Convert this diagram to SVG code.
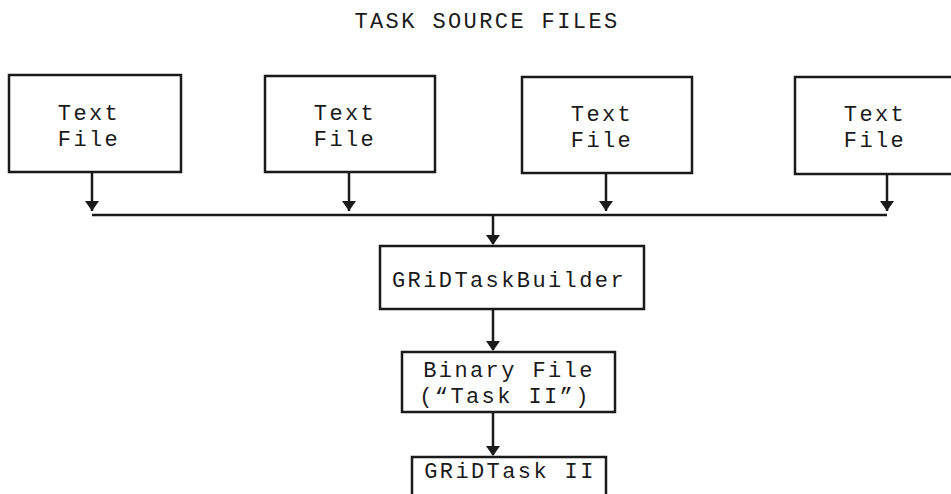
<svg xmlns="http://www.w3.org/2000/svg" width="951" height="494" viewBox="0 0 951 494">
<defs>
<style>
.box{fill:#ffffff;stroke:#1a1a1a;stroke-width:2.5}
.t{font-family:"Liberation Mono","DejaVu Sans Mono",monospace;font-size:22px;letter-spacing:2.4px;fill:#1a1a1a;text-anchor:middle}
.ln{stroke:#1a1a1a;stroke-width:2.5;fill:none}
.ah{fill:#1a1a1a}
</style>
</defs>
<rect width="951" height="494" fill="#ffffff"/>
<text class="t" x="487" y="28" font-size="23" letter-spacing="2.4">TASK SOURCE FILES</text>
<g id="connectors">
<path class="ln" d="M92,172 V211"/>
<path class="ah" d="M85,201 L99,201 L92,211 Z"/>
<path class="ln" d="M349,172 V211"/>
<path class="ah" d="M342,201 L356,201 L349,211 Z"/>
<path class="ln" d="M606,173 V211"/>
<path class="ah" d="M599,201 L613,201 L606,211 Z"/>
<path class="ln" d="M887,174 V211"/>
<path class="ah" d="M880,201 L894,201 L887,211 Z"/>
<path class="ln" d="M92,215 H887"/>
<path class="ln" d="M493,215 V244"/>
<path class="ah" d="M486,235 L500,235 L493,245 Z"/>
<path class="ln" d="M493,309 V350"/>
<path class="ah" d="M486,341 L500,341 L493,351 Z"/>
<path class="ln" d="M493,412 V455"/>
<path class="ah" d="M486,446 L500,446 L493,456 Z"/>
</g>
<g id="text-file-1">
<rect class="box" x="9" y="75" width="172" height="97"/>
<text class="t" x="89" y="120">Text</text>
<text class="t" x="89" y="146">File</text>
</g>
<g id="text-file-2">
<rect class="box" x="265" y="76" width="170" height="96"/>
<text class="t" x="345" y="120">Text</text>
<text class="t" x="345" y="146">File</text>
</g>
<g id="text-file-3">
<rect class="box" x="522" y="77" width="170" height="96"/>
<text class="t" x="602" y="121">Text</text>
<text class="t" x="602" y="147">File</text>
</g>
<g id="text-file-4">
<rect class="box" x="795" y="77" width="172" height="97"/>
<text class="t" x="875" y="121">Text</text>
<text class="t" x="875" y="147">File</text>
</g>
<g id="builder">
<rect class="box" x="380" y="246" width="264" height="63"/>
<text class="t" x="509" y="287">GRiDTaskBuilder</text>
</g>
<g id="binary-file">
<rect class="box" x="402" y="352" width="213" height="60"/>
<text class="t" x="509" y="377">Binary File</text>
<text class="t" x="505" y="403">(“Task II”)</text>
</g>
<g id="gridtask">
<rect class="box" x="412" y="457" width="194" height="50"/>
<text class="t" x="510" y="478">GRiDTask II</text>
</g>
</svg>
